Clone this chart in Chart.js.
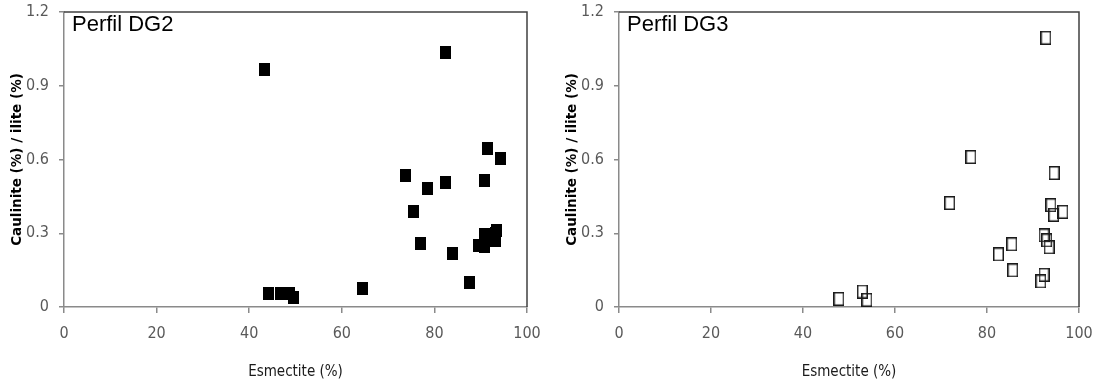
<!DOCTYPE html>
<html>
<head>
<meta charset="utf-8">
<script src="https://cdn.jsdelivr.net/npm/chart.js@4.4.1/dist/chart.umd.min.js"></script>
<style>
  body { margin: 0; background: #fff; }
  .wrap { position: absolute; top: 0; height: 381px; }
</style>
</head>
<body>
<div class="wrap" style="left:0;width:555px"><canvas id="dg2"></canvas></div>
<div class="wrap" style="left:555px;width:540px"><canvas id="dg3"></canvas></div>
<script>
// Perfil DG2 - esmectite (%) vs caulinite/ilite
const dg2Esmectite = [43.2, 82.5, 91.5, 94.2, 73.7, 78.5, 82.3, 90.9, 75.5, 76.9, 83.9, 87.5,
  89.5, 90.8, 90.8, 93.3, 93.3, 93.5, 64.5, 44.1, 46.8, 48.7, 49.5];
const dg2Ratio = [0.965, 1.035, 0.645, 0.605, 0.535, 0.482, 0.506, 0.515, 0.389, 0.26, 0.219, 0.101,
  0.252, 0.245, 0.295, 0.30, 0.27, 0.31, 0.074, 0.054, 0.054, 0.054, 0.04];

// Perfil DG3
const dg3Esmectite = [92.8, 76.5, 94.6, 71.9, 93.9, 94.5, 96.5, 92.4, 93.0, 93.5, 85.4, 82.5,
  85.6, 92.4, 91.7, 47.8, 52.9, 53.9];
const dg3Ratio = [1.095, 0.61, 0.545, 0.423, 0.414, 0.375, 0.387, 0.291, 0.271, 0.243, 0.255, 0.214,
  0.149, 0.131, 0.104, 0.033, 0.063, 0.029];

const xTicks = [0, 20, 40, 60, 80, 100];
const yTicks = [0, 0.3, 0.6, 0.9, 1.2];

const xTitle = 'Esmectite (%)';
const yTitle = 'Caulinite (%) / ilite (%)';

function marker(filled) {
  const c = document.createElement('canvas');
  c.width = 11;
  c.height = filled ? 13 : 14;
  const g = c.getContext('2d');
  if (filled) {
    g.fillStyle = '#000';
    g.fillRect(0, 0, 11, 13);
  } else {
    g.strokeStyle = '#1a1a1a';
    g.lineWidth = 1.5;
    g.strokeRect(0.75, 0.75, 9.5, 12.5);
  }
  return c;
}

const narrow = "'Liberation Sans Narrow', 'DejaVu Sans Condensed', Lato, sans-serif";
const tickFont = { family: narrow, size: 16 };

const framePlugin = {
  id: 'frame',
  afterDraw(chart, args, opts) {
    const { left, top, right, bottom } = chart.chartArea;
    const ctx = chart.ctx;
    ctx.save();
    ctx.strokeStyle = '#404040';
    ctx.lineWidth = 1.5;
    ctx.beginPath();
    ctx.moveTo(left, top);
    ctx.lineTo(right, top);
    ctx.lineTo(right, bottom);
    ctx.stroke();
    ctx.fillStyle = '#000';
    ctx.font = "22px 'Liberation Sans', Arial, sans-serif";
    ctx.textBaseline = 'middle';
    ctx.fillText(opts.text, left + 8, top + 13);
    ctx.restore();
  }
};

function makeChart(id, xs, ys, name, filled, rightPad) {
  const pts = xs.map((x, i) => ({ x: x, y: ys[i] }));
  return new Chart(document.getElementById(id), {
    type: 'scatter',
    data: {
      datasets: [{
        data: pts,
        pointStyle: marker(filled),
        pointRadius: 6,
        pointHoverRadius: 6
      }]
    },
    options: {
      responsive: true,
      maintainAspectRatio: false,
      animation: false,
      layout: { padding: { top: 12, right: rightPad, bottom: 0, left: 0 } },
      plugins: {
        legend: { display: false },
        tooltip: { enabled: false },
        frame: { text: name }
      },
      scales: {
        x: {
          type: 'linear',
          min: 0, max: 100,
          afterBuildTicks: s => { s.ticks = xTicks.map(v => ({ value: v })); },
          afterFit: s => { s.height = 74; s.paddingLeft = 0; s.paddingRight = 0; },
          border: { color: '#8a8a8a', width: 1.5 },
          grid: { drawOnChartArea: false, color: '#8a8a8a', lineWidth: 1.5, tickLength: 6 },
          ticks: { color: '#595959', font: tickFont, padding: 11, maxRotation: 0 },
          title: {
            display: true, text: xTitle, color: '#1a1a1a',
            font: { family: narrow, size: 15 },
            padding: { top: 4, bottom: 0 }
          }
        },
        y: {
          type: 'linear',
          min: 0, max: 1.2,
          afterBuildTicks: s => { s.ticks = yTicks.map(v => ({ value: v })); },
          afterFit: s => { s.width = 64; s.paddingTop = 0; s.paddingBottom = 0; },
          border: { color: '#8a8a8a', width: 1.5 },
          grid: { drawOnChartArea: false, color: '#8a8a8a', lineWidth: 1.5, tickLength: 5 },
          ticks: {
            color: '#595959', font: tickFont, padding: 10,
            callback: v => String(Number(v.toFixed(1)))
          },
          title: {
            display: true, text: yTitle, color: '#000',
            font: { family: "'DejaVu Sans', sans-serif", size: 13.5, weight: 'bold' },
            padding: { top: 9, bottom: 0 }
          }
        }
      }
    },
    plugins: [framePlugin]
  });
}

makeChart('dg2', dg2Esmectite, dg2Ratio, 'Perfil DG2', true, 28);
makeChart('dg3', dg3Esmectite, dg3Ratio, 'Perfil DG3', false, 16);
</script>
</body>
</html>
